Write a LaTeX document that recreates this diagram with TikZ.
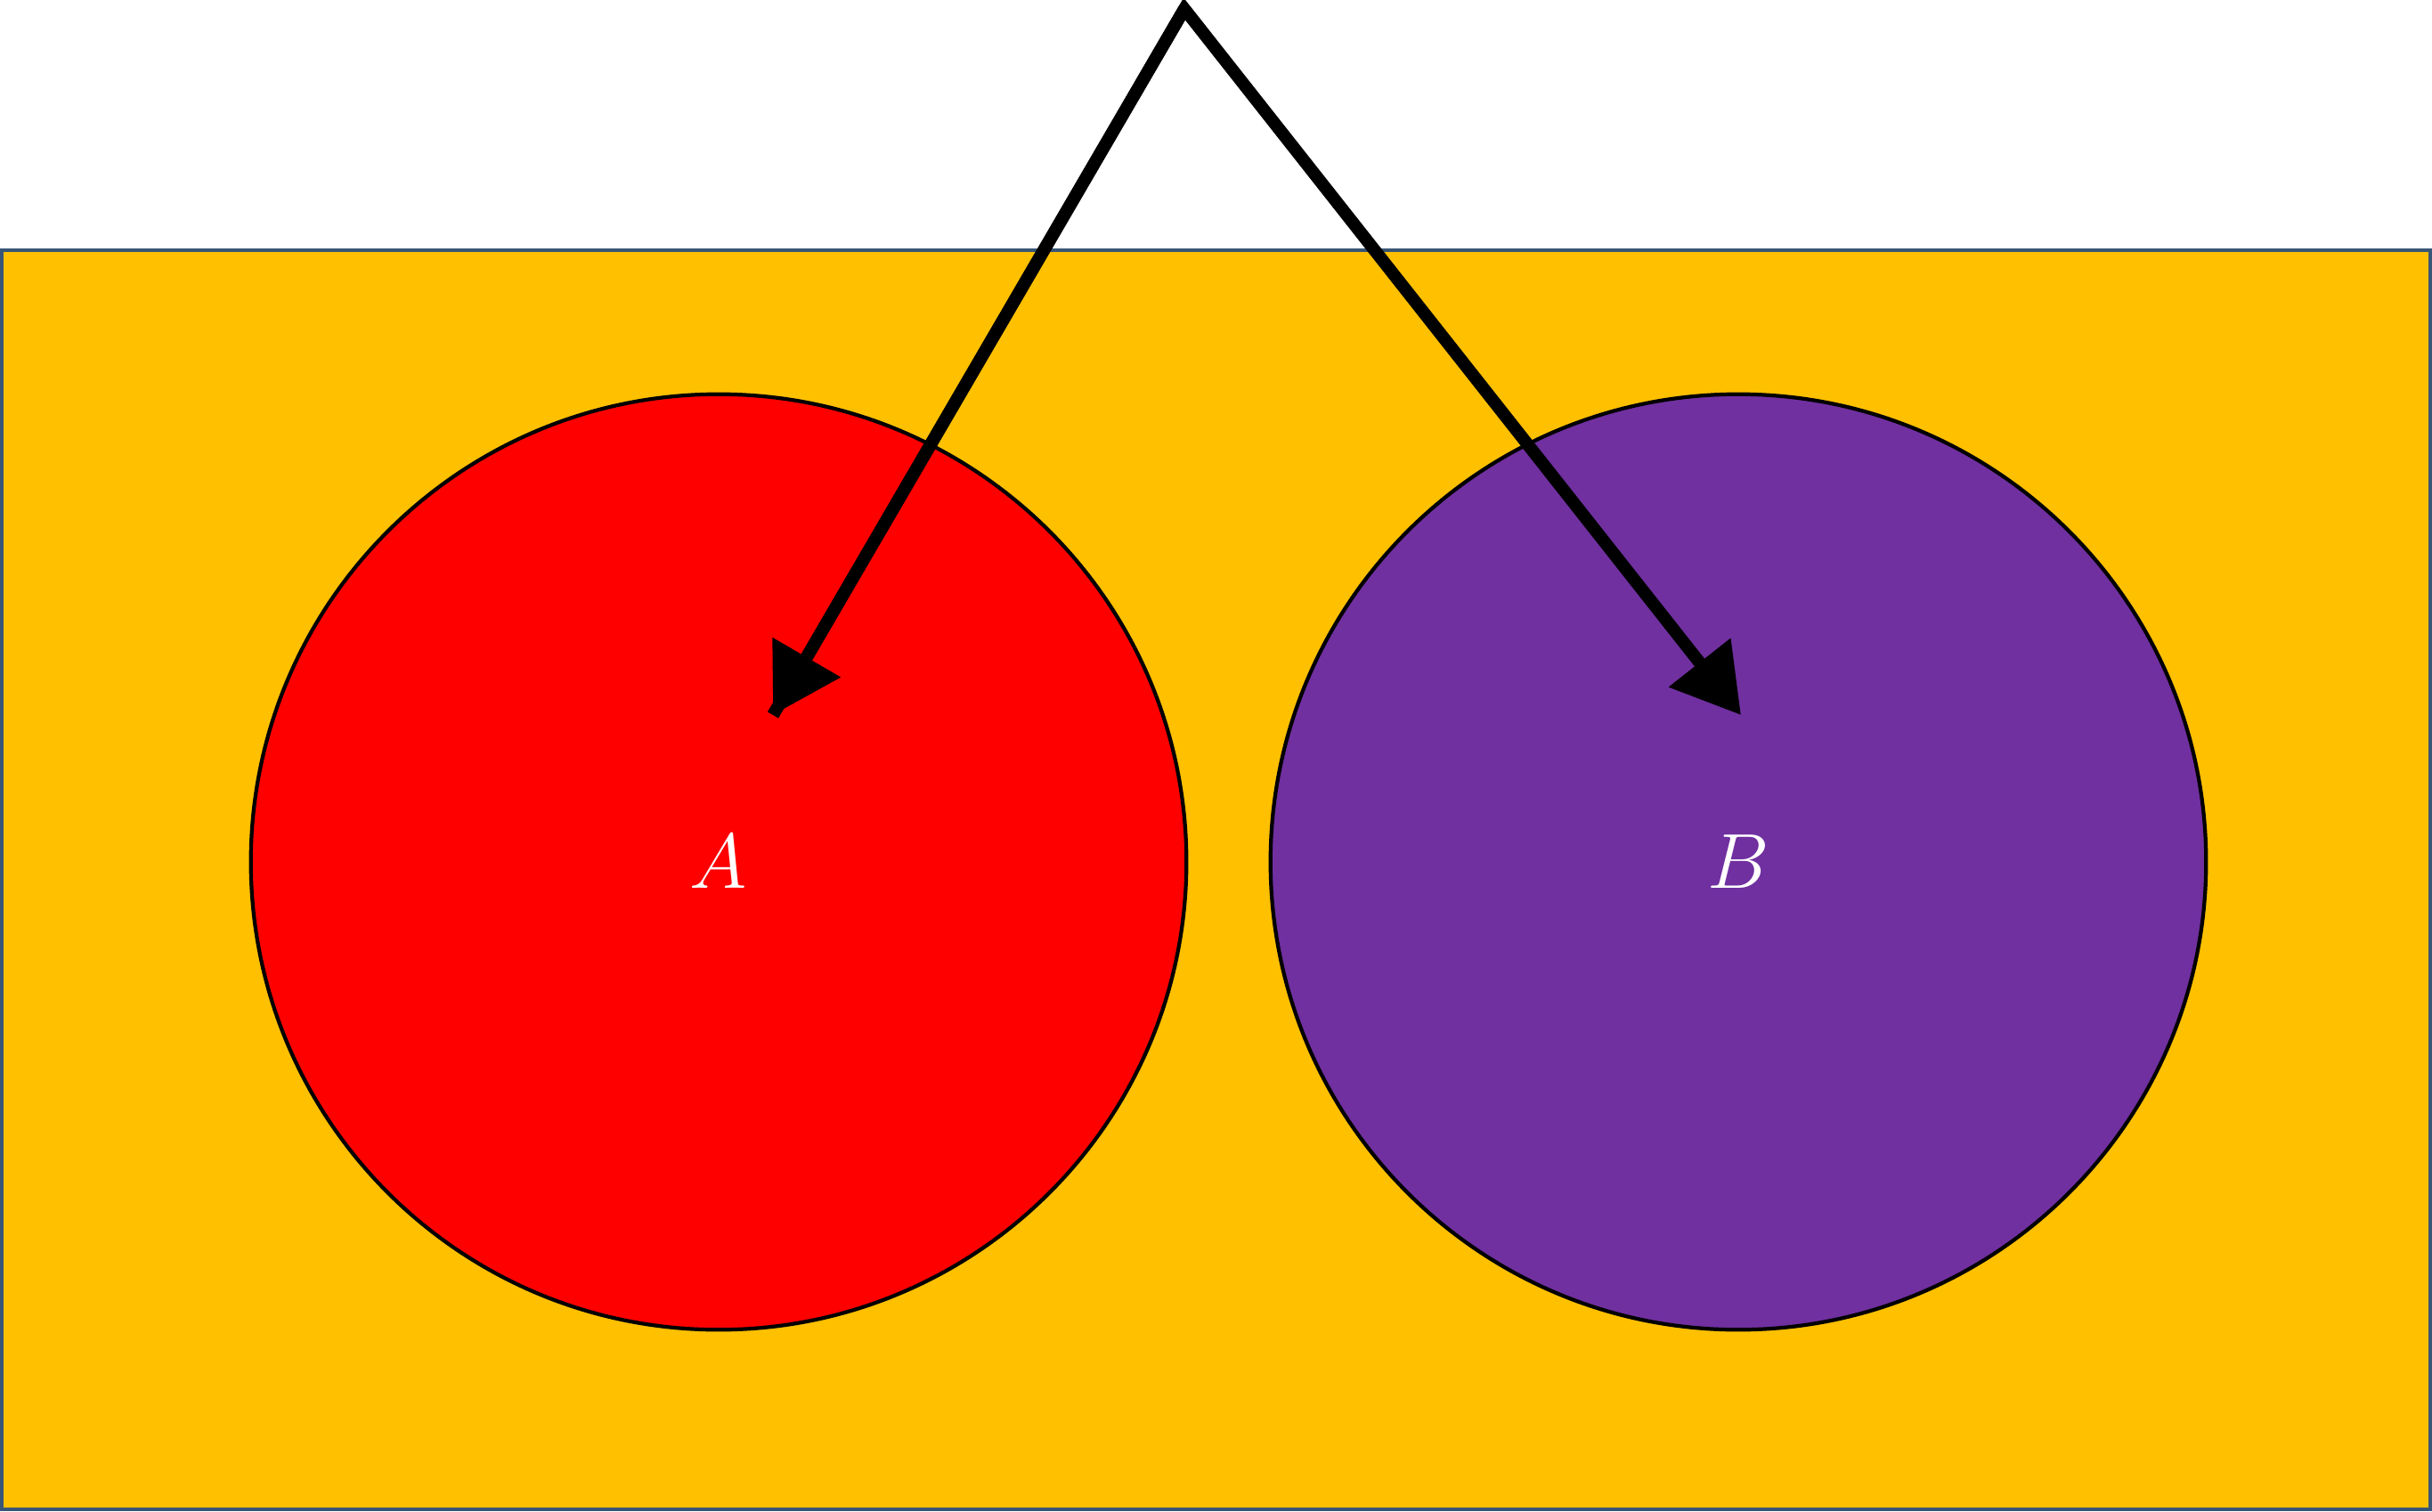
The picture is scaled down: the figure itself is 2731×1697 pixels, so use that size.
\documentclass[tikz,border=0pt]{standalone}
\usetikzlibrary{arrows.meta}
\definecolor{bgor}{HTML}{FFC000}
\definecolor{bord}{HTML}{3A5676}
\definecolor{purp}{HTML}{7030A0}
\begin{document}
\begin{tikzpicture}[x=0.01cm,y=-0.01cm,
  setc/.style={circle,draw=black,line width=1.2pt,minimum size=10.5cm,inner sep=0pt,text=white,font=\fontsize{88}{90}\selectfont},
  arr/.style={line width=4pt,-{Triangle[length=0.75cm,width=0.85cm]}}]
\useasboundingbox (0,0) rectangle (2731,1697);
\draw[fill=bgor,draw=bord,line width=1.2pt] (2,281) rectangle (2729,1695);
\node[setc,fill=red] (A) at (807,968) {$A$};
\node[setc,fill=purp] (B) at (1952,968) {$B$};
\coordinate (top) at (1330,10);
\coordinate (ta) at (868,803);
\coordinate (tb) at (1955,803);
\draw[arr,line join=miter] (ta) -- (top) -- (tb);
\draw[arr] (top) -- (ta);
\end{tikzpicture}
\end{document}
